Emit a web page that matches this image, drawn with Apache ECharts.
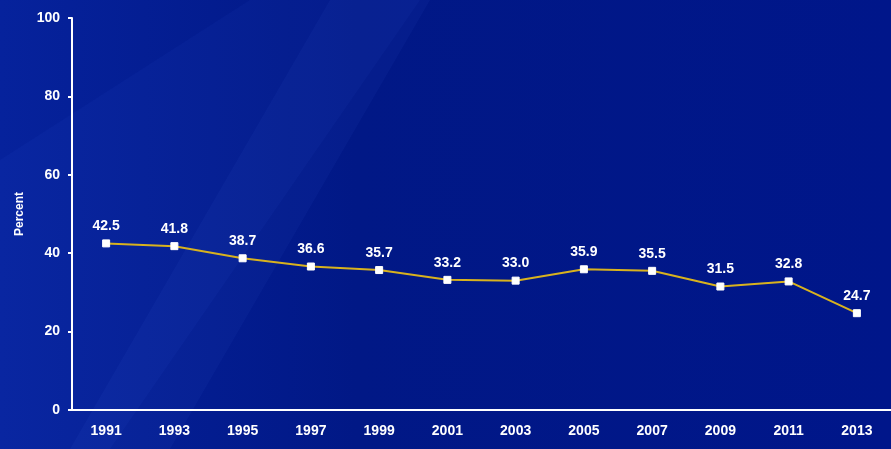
<!DOCTYPE html>
<html><head><meta charset="utf-8">
<script src="https://cdn.jsdelivr.net/npm/echarts@6/dist/echarts.min.js"></script>
<style>html,body{margin:0;padding:0;background:#001684;}#c{width:891px;height:449px;}</style>
</head><body><div id="c"></div>
<script>
const years = ['1991','1993','1995','1997','1999','2001','2003','2005','2007','2009','2011','2013'];
const percent = [42.5,41.8,38.7,36.6,35.7,33.2,33.0,35.9,35.5,31.5,32.8,24.7];
const yTicks = [0,20,40,60,80,100];

const font = 'Liberation Sans, Arial';
const chart = echarts.init(document.getElementById('c'));
chart.setOption({
  backgroundColor: {type:'linear',x:0,y:0,x2:1,y2:0,colorStops:[{offset:0,color:'#06229c'},{offset:0.4,color:'#011886'},{offset:1,color:'#00168a'}]},
  graphic: [
    {type:'polygon', silent:true, z:-10, shape:{points:[[0,160],[250,0],[420,0],[110,449],[0,449]]}, style:{fill:'rgba(80,120,255,0.05)'}},
    {type:'polygon', silent:true, z:-10, shape:{points:[[170,449],[430,0],[330,0],[70,449]]}, style:{fill:'rgba(90,140,255,0.05)'}}
  ],
  grid: {left:72, right:0, top:18, bottom:39},
  xAxis: {
    type:'category', data: years, boundaryGap:true,
    axisLine:{lineStyle:{color:'#ffffff', width:2}},
    axisTick:{show:false},
    axisLabel:{color:'#ffffff', fontWeight:'bold', fontSize:14, fontFamily:font, margin:14}
  },
  yAxis: {
    type:'value', min:0, max:100, interval:20,
    name:'Percent', nameLocation:'middle', nameGap:46, nameRotate:90,
    nameTextStyle:{color:'#ffffff', fontWeight:'bold', fontSize:12, fontFamily:font},
    axisLine:{show:true, lineStyle:{color:'#ffffff', width:2}},
    axisTick:{show:true, length:4, lineStyle:{color:'#ffffff', width:2}},
    splitLine:{show:false},
    axisLabel:{color:'#ffffff', fontWeight:'bold', fontSize:14, fontFamily:font, margin:12,
      formatter: v => yTicks.includes(v) ? String(v) : ''}
  },
  series: [{
    type:'line', data: percent,
    lineStyle:{color:'#d8b21e', width:2},
    symbol:'rect', symbolSize:7,
    itemStyle:{color:'#ffffff', borderColor:'#ffffff'},
    label:{show:true, position:'top', distance:6, color:'#ffffff', fontWeight:'bold', fontSize:14, fontFamily:font,
      formatter: p => p.value.toFixed(1)},
    animation:false
  }],
  animation:false
});
</script></body></html>
